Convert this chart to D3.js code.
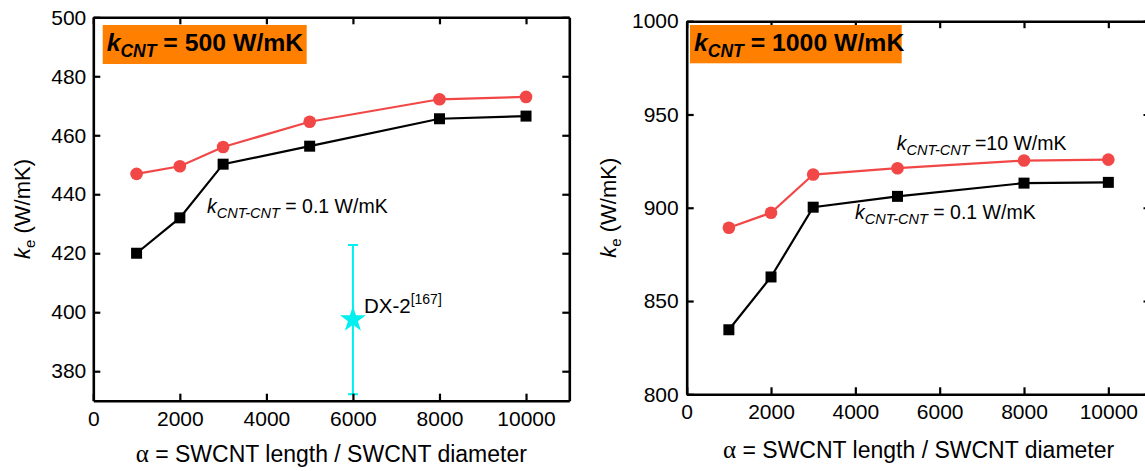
<!DOCTYPE html>
<html>
<head>
<meta charset="utf-8">
<script src="https://cdn.jsdelivr.net/npm/d3@7"></script>
<style>
  html, body { margin: 0; padding: 0; background: #fff; }
  svg { display: block; }
  text { font-family: "Liberation Sans", Arial, Helvetica, sans-serif; fill: #000; }
</style>
</head>
<body>
<svg id="chart" width="1145" height="471"></svg>
<script>
// Aspect ratio alpha = SWCNT length / SWCNT diameter
const alpha = [1000, 2000, 3000, 5000, 8000, 10000];

// Effective conductivity k_e (W/mK), k_CNT = 500 W/mK
const ke500Low  = [420.0, 432.0, 450.2, 456.3, 465.6, 466.5];   // k_CNT-CNT = 0.1 W/mK
const ke500High = [446.9, 449.5, 456.0, 464.6, 472.2, 473.0];   // k_CNT-CNT = 10 W/mK

// Effective conductivity k_e (W/mK), k_CNT = 1000 W/mK
const ke1000Low  = [834.6, 862.9, 900.3, 906.1, 913.2, 913.6];  // k_CNT-CNT = 0.1 W/mK
const ke1000High = [889.3, 897.3, 917.8, 921.2, 925.3, 925.8];  // k_CNT-CNT = 10 W/mK

// Experimental reference point DX-2 [167]
const dx2Alpha = [6000];
const dx2Ke    = [397.5];
const dx2Err   = [25.3];

// Tick values
const xTicks      = [0, 2000, 4000, 6000, 8000, 10000];
const yTicks500   = [380, 400, 420, 440, 460, 480, 500];
const yTicks1000  = [800, 850, 900, 950, 1000];

const RED = "#f24747";
const CYAN = "#00f0f0";
const ORANGE = "#ff8000";
const FONT = "'Liberation Sans', Arial, Helvetica, sans-serif";

const svg = d3.select("#chart");

function addSubText(g, x, y, parts, size) {
  // parts: [{t, italic, bold, size, dy}]
  const t = g.append("text").attr("x", x).attr("y", y)
    .attr("font-size", size);
  parts.forEach(p => {
    const s = t.append("tspan").text(p.t);
    if (p.italic) s.attr("font-style", "italic");
    if (p.bold) s.attr("font-weight", "bold");
    if (p.size) s.attr("font-size", p.size);
    if (p.dy) s.attr("dy", p.dy);
  });
  return t;
}

function drawPanel(cfg) {
  const g = svg.append("g");
  const x = d3.scaleLinear().domain([0, 11000]).range([cfg.x0, cfg.x1]);
  const y = d3.scaleLinear().domain(cfg.yDomain).range([cfg.y0, cfg.y1]);

  // Series lines and markers
  const line = d3.line().x(d => x(d[0])).y(d => y(d[1]));
  const series = [
    { vals: cfg.high, color: RED, symbol: d3.symbolCircle, size: 125 },
    { vals: cfg.low, color: "#000", symbol: d3.symbolSquare, size: 121 }
  ];
  series.forEach(s => {
    const pts = alpha.map((a, i) => [a, s.vals[i]]);
    g.append("path").datum(pts)
      .attr("d", line)
      .attr("fill", "none")
      .attr("stroke", s.color)
      .attr("stroke-width", 2.2);
    g.selectAll(null).data(pts).enter().append("path")
      .attr("transform", d => `translate(${x(d[0])},${y(d[1])})`)
      .attr("d", d3.symbol().type(s.symbol).size(s.size))
      .attr("fill", s.color);
  });

  // Experimental point with error bar
  if (cfg.exp) {
    dx2Alpha.forEach((a, i) => {
      const cx = x(a), top = y(dx2Ke[i] + dx2Err[i]), bot = y(dx2Ke[i] - dx2Err[i]);
      g.append("line").attr("x1", cx).attr("x2", cx).attr("y1", top).attr("y2", bot)
        .attr("stroke", CYAN).attr("stroke-width", 2);
      [top, bot].forEach(v => g.append("line")
        .attr("x1", cx - 5).attr("x2", cx + 5).attr("y1", v).attr("y2", v)
        .attr("stroke", CYAN).attr("stroke-width", 2));
      g.append("path")
        .attr("transform", `translate(${cx},${y(dx2Ke[i])})`)
        .attr("d", d3.symbol().type(d3.symbolStar).size(210))
        .attr("fill", CYAN);
    });
  }

  // Frame with inward ticks
  const styleAxis = (sel, labels) => {
    sel.attr("font-family", FONT).attr("font-size", 21);
    sel.select(".domain").attr("stroke", "#000").attr("stroke-width", 2.6);
    sel.selectAll(".tick line").attr("stroke", "#000").attr("stroke-width", 2.2);
    sel.selectAll(".tick text").attr("fill", "#000");
    if (!labels) sel.selectAll(".tick text").remove();
  };
  g.append("g").attr("transform", `translate(0,${cfg.y0})`)
    .call(d3.axisBottom(x).tickValues(xTicks).tickFormat(d3.format("d"))
      .tickSizeInner(-7).tickSizeOuter(0).tickPadding(10))
    .call(s => styleAxis(s, true));
  g.append("g").attr("transform", `translate(0,${cfg.y1})`)
    .call(d3.axisTop(x).tickValues(xTicks).tickSizeInner(-7).tickSizeOuter(0))
    .call(s => styleAxis(s, false));
  g.append("g").attr("transform", `translate(${cfg.x0},0)`)
    .call(d3.axisLeft(y).tickValues(cfg.yTicks).tickFormat(d3.format("d"))
      .tickSizeInner(-7).tickSizeOuter(0).tickPadding(cfg.yPad))
    .call(s => styleAxis(s, true));
  g.append("g").attr("transform", `translate(${cfg.x1},0)`)
    .call(d3.axisRight(y).tickValues(cfg.yTicks).tickSizeInner(-7).tickSizeOuter(0))
    .call(s => styleAxis(s, false));

  // Axis titles
  const xt = g.append("text")
    .attr("x", (cfg.x0 + cfg.x1Title) / 2).attr("y", cfg.xTitleY)
    .attr("text-anchor", "middle").attr("font-size", 23);
  xt.append("tspan").attr("font-family", "'Liberation Serif', 'Times New Roman', serif")
    .attr("font-size", 25).text("\u03b1");
  xt.append("tspan").text(" = SWCNT length / SWCNT diameter");
  const yt = g.append("text")
    .attr("transform", `translate(${cfg.yTitleX},${(cfg.y0 + cfg.y1) / 2}) rotate(-90)`)
    .attr("text-anchor", "middle").attr("font-size", 22);
  yt.append("tspan").attr("font-style", "italic").text("k");
  yt.append("tspan").attr("font-size", 15).attr("dy", 5).text("e");
  yt.append("tspan").attr("dy", -5).text(" (W/mK)");

  // Title box
  g.append("rect")
    .attr("x", cfg.box[0]).attr("y", cfg.box[1])
    .attr("width", cfg.box[2]).attr("height", cfg.box[3])
    .attr("fill", ORANGE);
  addSubText(g, cfg.box[0] + 4, cfg.box[1] + 26, [
    { t: "k", italic: true, bold: true },
    { t: "CNT", italic: true, bold: true, size: 17.5, dy: 6 },
    { t: " = " + cfg.kcnt + " W/mK", bold: true, dy: -6 }
  ], 24.8);

  // Series annotations
  cfg.notes.forEach(n => {
    addSubText(g, n.x, n.y, [
      { t: "k", italic: true },
      { t: "CNT-CNT", italic: true, size: 14.5, dy: 5 },
      { t: n.text, dy: -5 }
    ], 19.5);
  });

  if (cfg.exp) {
    const cx = x(dx2Alpha[0]);
    addSubText(g, cx + 11, y(dx2Ke[0]) - 7, [
      { t: "DX-2" },
      { t: "[167]", size: 14, dy: -9 }
    ], 20.5);
  }
}

drawPanel({
  x0: 93.3, x1: 569.3, x1Title: 569.3, y0: 400.7, y1: 17.3,
  yDomain: [370, 500], yTicks: yTicks500, yPad: 7,
  low: ke500Low, high: ke500High, exp: true,
  xTitleY: 462, yTitleX: 30,
  box: [102.7, 25, 204, 39], kcnt: 500,
  notes: [{ x: 207, y: 213, text: " = 0.1 W/mK" }]
});

drawPanel({
  x0: 686.7, x1: 1150.5, x1Title: 1150.5, y0: 394.3, y1: 21.2,
  yDomain: [800, 1000], yTicks: yTicks1000, yPad: 8,
  low: ke1000Low, high: ke1000High, exp: false,
  xTitleY: 458, yTitleX: 616,
  box: [690, 25, 211.7, 38.3], kcnt: 1000,
  notes: [
    { x: 896.7, y: 150, text: " =10 W/mK" },
    { x: 855, y: 219, text: " = 0.1 W/mK" }
  ]
});
</script>
</body>
</html>
